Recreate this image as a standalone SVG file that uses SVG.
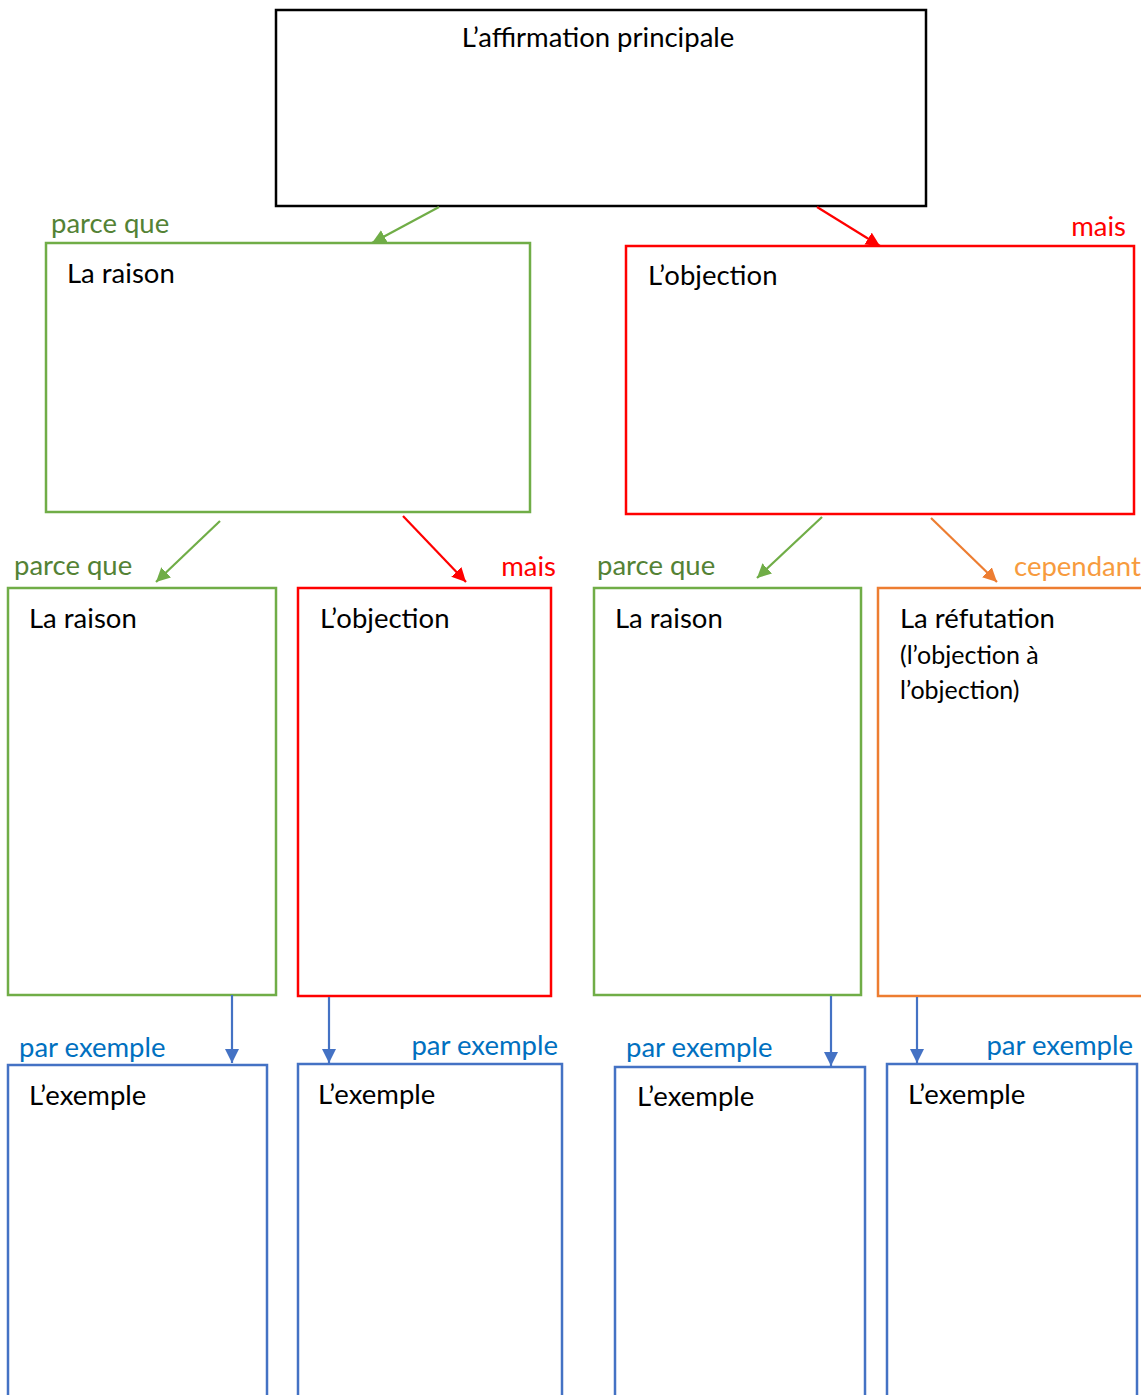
<svg xmlns="http://www.w3.org/2000/svg" width="1141" height="1395" viewBox="0 0 1141 1395">
<style>
text{font-family:Lato,"Open Sans","Liberation Sans",sans-serif;font-size:27.5px;fill:#000}
.box{fill:#fff;stroke-width:2.5}
.k{stroke:#000}
.g{stroke:#70AD47}
.r{stroke:#FF0000}
.o{stroke:#ED7D31}
.b{stroke:#4472C4}
.tg{fill:#548235}
.tr{fill:#FF0000}
.to{fill:#F79B3E}
.tb{fill:#0070C0}
.small{font-size:25px}
.c{fill:none;stroke-width:2.2}
</style>
<defs>
<marker id="ag" markerWidth="15" markerHeight="14" refX="14" refY="7" orient="auto" markerUnits="userSpaceOnUse"><path d="M0,0 L14,7 L0,14 z" fill="#70AD47"/></marker>
<marker id="ar" markerWidth="15" markerHeight="14" refX="14" refY="7" orient="auto" markerUnits="userSpaceOnUse"><path d="M0,0 L14,7 L0,14 z" fill="#FF0000"/></marker>
<marker id="ao" markerWidth="15" markerHeight="14" refX="14" refY="7" orient="auto" markerUnits="userSpaceOnUse"><path d="M0,0 L14,7 L0,14 z" fill="#ED7D31"/></marker>
<marker id="ab" markerWidth="15" markerHeight="14" refX="14" refY="7" orient="auto" markerUnits="userSpaceOnUse"><path d="M0,0 L14,7 L0,14 z" fill="#4472C4"/></marker>
</defs>
<rect width="1141" height="1395" fill="#fff"/>

<g id="main">
<rect class="box k" x="276" y="10" width="650" height="196"/>
<text x="598" y="47" text-anchor="middle">L’affirmation principale</text>
</g>

<g id="raison1">
<rect class="box g" x="46" y="243" width="484" height="269"/>
<text x="67" y="283">La raison</text>
</g>
<g id="objection1">
<rect class="box r" x="626" y="246" width="508" height="268"/>
<text x="648" y="285">L’objection</text>
</g>

<g id="raison2">
<rect class="box g" x="8" y="588" width="268" height="407"/>
<text x="29" y="628">La raison</text>
</g>
<g id="objection2">
<rect class="box r" x="298" y="588" width="253" height="408"/>
<text x="320" y="628">L’objection</text>
</g>
<g id="raison3">
<rect class="box g" x="594" y="588" width="267" height="407"/>
<text x="615" y="628">La raison</text>
</g>
<g id="refutation">
<rect class="box o" x="878" y="588" width="280" height="408"/>
<text x="900" y="628">La réfutation</text>
<text class="small" x="900" y="664">(l’objection à</text>
<text class="small" x="900" y="699">l’objection)</text>
</g>

<g id="exemple1">
<rect class="box b" x="8" y="1065" width="259" height="340"/>
<text x="29" y="1105">L’exemple</text>
</g>
<g id="exemple2">
<rect class="box b" x="298" y="1064" width="264" height="340"/>
<text x="318" y="1104">L’exemple</text>
</g>
<g id="exemple3">
<rect class="box b" x="615" y="1067" width="250" height="340"/>
<text x="637" y="1106">L’exemple</text>
</g>
<g id="exemple4">
<rect class="box b" x="887" y="1064" width="250" height="340"/>
<text x="908" y="1104">L’exemple</text>
</g>

<g id="connectors">
<line class="c g" x1="439" y1="207" x2="372" y2="243" marker-end="url(#ag)"/>
<line class="c r" x1="817" y1="207" x2="880" y2="246" marker-end="url(#ar)"/>
<line class="c g" x1="220" y1="521" x2="156" y2="582" marker-end="url(#ag)"/>
<line class="c r" x1="403" y1="516" x2="466" y2="582" marker-end="url(#ar)"/>
<line class="c g" x1="822" y1="517" x2="757" y2="578" marker-end="url(#ag)"/>
<line class="c o" x1="931" y1="518" x2="997" y2="582" marker-end="url(#ao)"/>
<line class="c b" x1="232" y1="995" x2="232" y2="1063" marker-end="url(#ab)"/>
<line class="c b" x1="329" y1="997" x2="329" y2="1063" marker-end="url(#ab)"/>
<line class="c b" x1="831" y1="996" x2="831" y2="1066" marker-end="url(#ab)"/>
<line class="c b" x1="917" y1="997" x2="917" y2="1063" marker-end="url(#ab)"/>
</g>

<g id="labels">
<text class="tg" x="51" y="233">parce que</text>
<text class="tr" x="1126" y="236" text-anchor="end">mais</text>
<text class="tg" x="14" y="575">parce que</text>
<text class="tr" x="556" y="576" text-anchor="end">mais</text>
<text class="tg" x="597" y="575">parce que</text>
<text class="to" x="1014" y="576">cependant</text>
<text class="tb" x="19" y="1057">par exemple</text>
<text class="tb" x="558" y="1055" text-anchor="end">par exemple</text>
<text class="tb" x="626" y="1057">par exemple</text>
<text class="tb" x="1133" y="1055" text-anchor="end">par exemple</text>
</g>
</svg>
